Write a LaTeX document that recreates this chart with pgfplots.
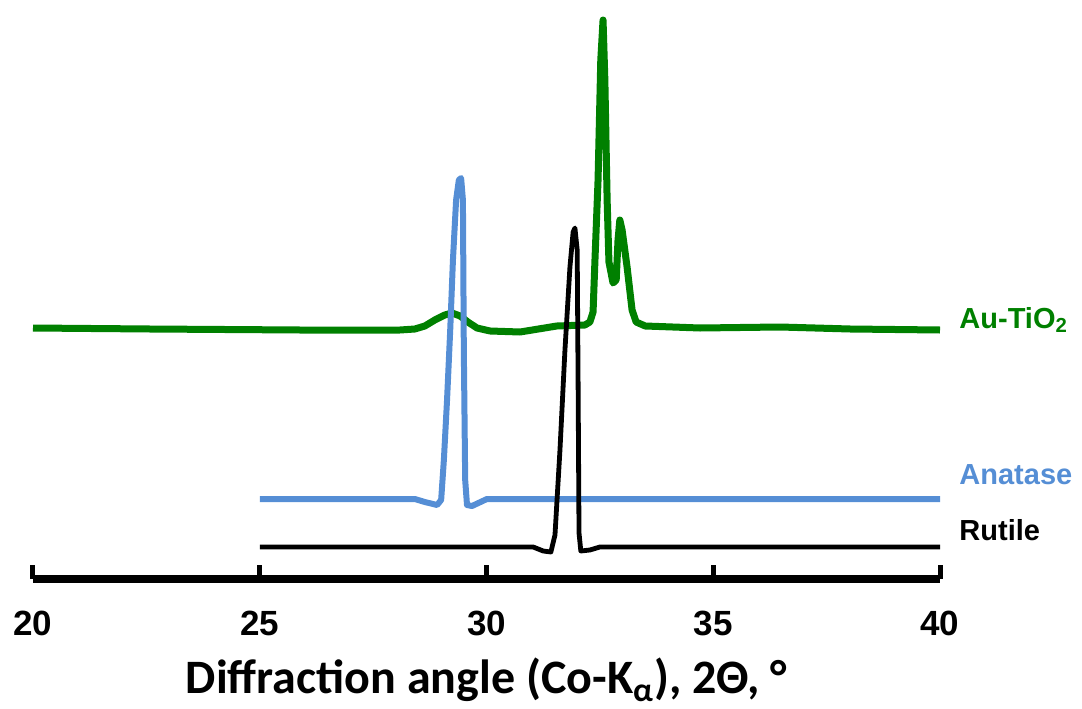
\documentclass[border=0pt]{standalone}
\usepackage{pgfplots}
\pgfplotsset{compat=1.18}
\usepackage{fontspec}
\setmainfont{Liberation Sans}
\newfontfamily\calibri{Carlito}

\definecolor{auGreen}{RGB}{0,128,0}
\definecolor{anaBlue}{RGB}{85,142,213}

\begin{document}
\begin{tikzpicture}
% frame of the picture, set before anything is drawn
\path[use as bounding box] (-16.5pt,-64.5pt) rectangle (524.5pt,289.5pt);
\begin{axis}[
    at={(0,0)}, anchor=south west,
    scale only axis,
    width=453.5pt, height=289.5pt,
    xmin=20, xmax=40, ymin=-6, ymax=573,
    clip=false,
    axis x line=bottom, axis y line=none,
    axis line style={line width=4pt, -},
    xtick={20,25,30,35,40},
    xticklabels={20,25,30,35,40},
    tick align=inside,
    major tick length=7pt,
    tick style={line width=2.5pt, black},
    xticklabel style={font=\bfseries\fontsize{17.5}{20}\selectfont, yshift=-12.5pt},
    xlabel={Diffraction angle (Co-K\textsubscript{α}), 2Θ, °},
    xlabel style={font=\calibri\bfseries\fontsize{24}{28}\selectfont,
                  at={(axis description cs:0.5,0)}, anchor=center, yshift=-50.5pt},
]
% Au-TiO2
\addplot[auGreen, line width=3.5pt, line join=round] coordinates {
    (20,245) (22.58,244) (25.89,243) (28.09,243) (28.42,244) (28.64,247)
    (28.86,253) (29.08,258) (29.24,260) (29.42,257) (29.59,251) (29.79,245)
    (30.08,242) (30.74,241) (31.55,247) (32.17,248) (32.28,251) (32.35,261)
    (32.39,311) (32.46,393) (32.52,513) (32.57,553) (32.61,493) (32.66,373)
    (32.70,311) (32.79,290) (32.86,293) (32.90,333) (32.94,353) (32.99,343)
    (33.10,306) (33.21,263) (33.30,251) (33.50,247) (34.71,245) (36.47,246)
    (38.02,244) (40,243)
};
% Anatase
\addplot[anaBlue, line width=3pt, line join=round] coordinates {
    (25,74) (28.42,74) (28.64,71) (28.91,68) (29.00,73) (29.06,113)
    (29.13,173) (29.20,243) (29.26,313) (29.33,373) (29.39,393) (29.44,395)
    (29.48,373) (29.50,223) (29.53,93) (29.57,68) (29.68,67) (30.01,74) (40,74)
};
% Rutile
\addplot[black, line width=2.4pt, line join=round] coordinates {
    (25,26) (31.03,26) (31.25,22) (31.42,21) (31.51,38) (31.62,123)
    (31.73,223) (31.84,306) (31.91,341) (31.95,345) (32.00,323) (32.02,190)
    (32.04,40) (32.08,22) (32.28,23) (32.50,26) (40,26)
};
\node[anchor=west, inner sep=0pt, text=auGreen, font=\bfseries\fontsize{14.5}{17}\selectfont] at (axis cs:40.42,253) {Au-TiO\textsubscript{2}};
\node[anchor=west, inner sep=0pt, text=anaBlue, font=\bfseries\fontsize{14.5}{17}\selectfont] at (axis cs:40.42,98) {Anatase};
\node[anchor=west, inner sep=0pt, text=black, font=\bfseries\fontsize{14.5}{17}\selectfont] at (axis cs:40.42,43) {Rutile};
\end{axis}
\end{tikzpicture}
\end{document}
